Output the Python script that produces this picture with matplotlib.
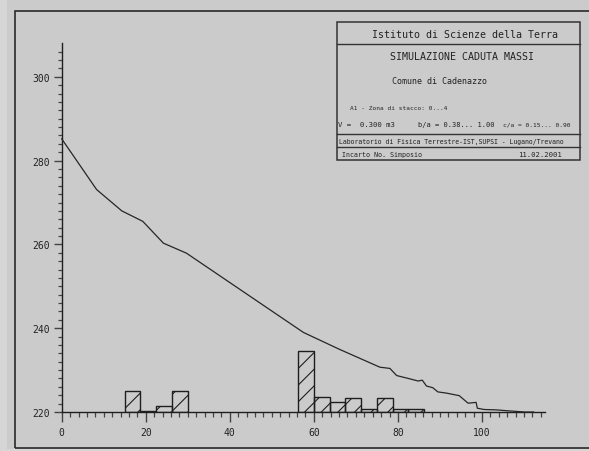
import matplotlib
matplotlib.use("Agg")
import matplotlib.pyplot as plt
from matplotlib.patches import Rectangle
from matplotlib.lines import Line2D
import numpy as np

# Trajectory profile: horizontal distance (m) vs elevation (m)
profile_x = [0, 8.3, 14.3, 19.3, 24.2, 29.7, 57.5, 66.0, 75.7, 78.1, 79.7,
             82.5, 84.8, 85.8, 86.8, 88.3, 89.5, 91.6, 94.6, 96.7, 98.6,
             98.9, 100.5, 103.5, 106.0, 110.2, 112.3]
profile_y = [285.2, 273.1, 268.0, 265.5, 260.3, 257.9, 239.0, 235.0, 230.7,
             230.4, 228.7, 228.0, 227.4, 227.6, 226.2, 225.8, 224.8, 224.5,
             223.9, 222.1, 222.3, 220.9, 220.6, 220.5, 220.3, 220.0, 220.0]

# Stop-point histogram: left edges of the classes and bar heights
bin_width = 3.75
bin_left = [15.0, 18.75, 22.5, 26.25, 56.25, 60.0, 63.75, 67.5, 71.25, 75.0,
            78.75, 82.5]
bin_height = [4.9, 0.25, 1.5, 4.9, 14.6, 3.5, 2.5, 3.3, 0.6, 3.3, 0.6, 0.6]

base_level = 220
x_ticks = [0, 20, 40, 60, 80, 100]
y_ticks = [220, 240, 260, 280, 300]

W, H = 589, 452
fig = plt.figure(figsize=(W / 100, H / 100), dpi=100, facecolor="#d6d6d6")


def fx(px):
    return px / W


def fy(py):
    return 1 - py / H


mono = "DejaVu Sans Mono"
ink = "#1e1e1e"
plt.rcParams["hatch.linewidth"] = 0.8

# panel background and outer frame
fig.add_artist(Rectangle((fx(7), fy(450)), fx(W) - fx(7), fy(0) - fy(450),
                         transform=fig.transFigure, facecolor="#cbcbcb",
                         edgecolor="none", zorder=0))
fig.add_artist(Rectangle((fx(15), fy(449)), fx(600) - fx(15),
                         fy(11.5) - fy(449), transform=fig.transFigure,
                         facecolor="none", edgecolor="#2a2a2a", lw=1.2,
                         zorder=1))

# main axes
ax = fig.add_axes([fx(61.7), fy(413), fx(545.0) - fx(61.7),
                   fy(44.3) - fy(413)])
ax.set_facecolor("none")
ax.set_xlim(0, 115)
ax.set_ylim(220, 308)
for s in ("top", "right"):
    ax.spines[s].set_visible(False)
for s in ("left", "bottom"):
    ax.spines[s].set_color(ink)
    ax.spines[s].set_linewidth(1.0)

ax.set_xticks(x_ticks)
ax.set_xticks(np.arange(0, 115, 2), minor=True)
ax.set_yticks(y_ticks)
ax.set_yticks(np.arange(220, 308, 2), minor=True)
ax.tick_params(axis="x", which="major", direction="out", length=7, width=1.0,
               color="#444444", pad=3.5)
ax.tick_params(axis="x", which="minor", direction="out", length=3.3,
               width=0.9, color="#444444")
ax.tick_params(axis="y", which="major", direction="out", length=6, width=1.0,
               color="#444444", pad=2.5)
ax.tick_params(axis="y", which="minor", direction="out", length=3.1,
               width=0.9, color="#444444")
for lab in ax.get_xticklabels() + ax.get_yticklabels():
    lab.set_fontfamily(mono)
    lab.set_fontsize(7)
    lab.set_color("#222222")

# histogram bars
ax.bar(bin_left, bin_height, width=bin_width, bottom=base_level,
       align="edge", facecolor="none", edgecolor=ink, linewidth=1.0,
       hatch="//", zorder=2)

# profile line
ax.plot(profile_x, profile_y, color="#262626", lw=0.9, zorder=3,
        clip_on=False)

# title block
bx0, bx1 = 337.3, 580
rows = [23.3, 45, 135, 148.3, 160.7]
fig.add_artist(Rectangle((fx(bx0), fy(rows[-1])), fx(bx1) - fx(bx0),
                         fy(rows[0]) - fy(rows[-1]),
                         transform=fig.transFigure, facecolor="none",
                         edgecolor="#333333", lw=1.1, zorder=4))
for r in rows[1:-1]:
    fig.add_artist(Line2D([fx(bx0), fx(bx1)], [fy(r), fy(r)],
                          transform=fig.transFigure, color="#333333",
                          lw=1.0, zorder=4))


def put(px, py, s, size, ha="left"):
    fig.text(fx(px), fy(py), s, fontsize=size, family=mono, ha=ha,
             va="center", color="#222222", zorder=5)


put(465, 35, "Istituto di Scienze della Terra", 7.2, "center")
put(462, 57.3, "SIMULAZIONE CADUTA MASSI", 7.2, "center")
put(392, 81, "Comune di Cadenazzo", 6.0)
put(350, 108, "A1 - Zona di stacco: 0...4", 4.4)
put(338, 125, "V =  0.300 m3", 5.2)
put(418, 125, "b/a = 0.38... 1.00", 5.0)
put(503, 125, "c/a = 0.15... 0.90", 4.5)
put(339, 141.7, "Laboratorio di Fisica Terrestre-IST,SUPSI - Lugano/Trevano",
    4.7)
put(341.7, 155, "Incarto No. Simposio", 4.8)
put(561.7, 155, "11.02.2001", 5.2, "right")

fig.savefig("out.png", dpi=100, facecolor=fig.get_facecolor())
